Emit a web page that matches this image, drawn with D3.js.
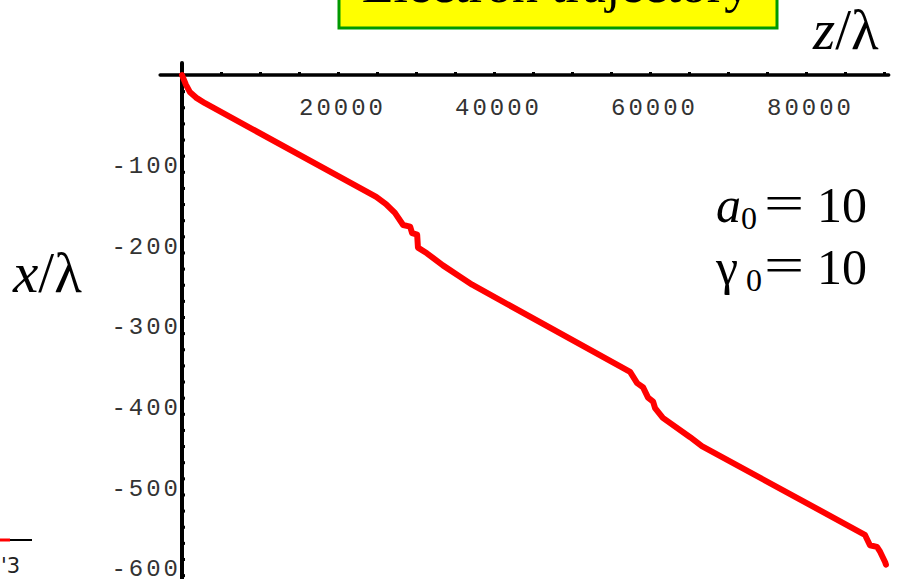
<!DOCTYPE html>
<html>
<head>
<meta charset="utf-8">
<script src="https://cdn.jsdelivr.net/npm/d3@7"></script>
<style>
  body { margin: 0; background: #fff; }
  svg { display: block; }
  .tickLabel text { font-family: "Liberation Mono", "DejaVu Sans Mono", monospace; font-size: 24px; fill: #333; letter-spacing: 3px; }
  .serif { font-family: "Liberation Serif", "Times New Roman", serif; fill: #000; }
</style>
</head>
<body>
<div id="chart"></div>
<script>
"use strict";

// trajectory points: z/lambda and x/lambda
let zValues = [0, 500, 1000, 1800, 2950, 24900, 26150, 27300, 28350, 29250, 29500, 30150, 30250, 31400,
  33450, 35650, 37200, 57450, 58350, 59100, 59750, 60400, 60650, 61650, 65150, 66650, 87550, 88200,
  89100, 89500, 90150, 90250];
let xValues = [0, -12, -21, -28, -35, -151, -160, -171, -186, -188, -196, -198, -214, -221,
  -236, -250, -260, -368, -382, -387, -400, -405, -413, -425, -449, -460, -570, -583,
  -585, -591, -604, -607];

let zTickLabels = [20000, 40000, 60000, 80000];
let xTickLabels = [-100, -200, -300, -400, -500, -600];

let width = 913, height = 579;

let svg = d3.select("#chart").append("svg")
  .attr("width", width)
  .attr("height", height);

let x = d3.scaleLinear().domain([0, 80000]).range([182, 806]);
let y = d3.scaleLinear().domain([0, -600]).range([75, 559]);

// title box, cut off at the top
svg.append("rect")
  .attr("x", 339).attr("y", -60)
  .attr("width", 438).attr("height", 88)
  .attr("fill", "#ffff00")
  .attr("stroke", "#009900")
  .attr("stroke-width", 3);

svg.append("text")
  .attr("class", "serif")
  .attr("x", 556).attr("y", 2)
  .attr("text-anchor", "middle")
  .style("font-size", "52px")
  .text("Electron trajectory");

// minor ticks
svg.append("g")
  .attr("transform", "translate(0," + y(0) + ")")
  .call(d3.axisTop(x).tickValues(d3.range(5000, 90001, 5000)).tickSize(3).tickFormat(""))
  .call(g => g.select(".domain").remove())
  .call(g => g.selectAll("line").attr("stroke", "#000").attr("stroke-width", 3));

svg.append("g")
  .attr("transform", "translate(" + x(0) + ",0)")
  .call(d3.axisRight(y).tickValues(d3.range(-20, -621, -20)).tickSize(3).tickFormat(""))
  .call(g => g.select(".domain").remove())
  .call(g => g.selectAll("line").attr("stroke", "#000").attr("stroke-width", 3));

// tick labels
svg.append("g")
  .attr("class", "tickLabel")
  .attr("transform", "translate(4," + (y(0) + 23) + ")")
  .call(d3.axisBottom(x).tickValues(zTickLabels).tickSize(0).tickPadding(0).tickFormat(d => d))
  .call(g => g.select(".domain").remove());

svg.append("g")
  .attr("class", "tickLabel")
  .attr("transform", "translate(" + (x(0) - 4) + ",9)")
  .call(d3.axisLeft(y).tickValues(xTickLabels).tickSize(0).tickPadding(0).tickFormat(d => "-" + Math.abs(d)))
  .call(g => g.select(".domain").remove())
  .call(g => g.selectAll("text").attr("dx", "3px"));

// axis lines
svg.append("line")
  .attr("x1", x(-2800)).attr("x2", x(90600))
  .attr("y1", y(0)).attr("y2", y(0))
  .attr("stroke", "#000").attr("stroke-width", 3.5)
  .attr("stroke-linecap", "round");

svg.append("line")
  .attr("x1", x(0)).attr("x2", x(0))
  .attr("y1", y(15)).attr("y2", height + 10)
  .attr("stroke", "#000").attr("stroke-width", 4)
  .attr("stroke-linecap", "round");

// trajectory
let line = d3.line()
  .x(d => x(d[0]))
  .y(d => y(d[1]));

svg.append("path")
  .datum(d3.zip(zValues, xValues))
  .attr("d", line)
  .attr("fill", "none")
  .attr("stroke", "#ff0000")
  .attr("stroke-width", 6)
  .attr("stroke-linejoin", "round")
  .attr("stroke-linecap", "round");

// axis titles
let zTitle = svg.append("text")
  .attr("class", "serif")
  .attr("x", 813).attr("y", 49)
  .style("font-size", "57px");
zTitle.append("tspan").style("font-style", "italic").text("z");
zTitle.append("tspan").text("/λ");

let xTitle = svg.append("text")
  .attr("class", "serif")
  .attr("x", 13).attr("y", 292)
  .style("font-size", "57px");
xTitle.append("tspan").style("font-style", "italic").text("x");
xTitle.append("tspan").text("/λ");

// parameters
function paramRow(symbol, italic, baseline) {
  let t = svg.append("text")
    .attr("class", "serif")
    .attr("x", 716).attr("y", baseline)
    .style("font-size", "50px");
  t.append("tspan").style("font-style", italic ? "italic" : "normal").text(symbol);
  t.append("tspan").attr("dy", 7).style("font-size", "32px").text(italic ? "0" : " 0");

  svg.append("text")
    .attr("class", "serif")
    .attr("text-anchor", "middle")
    .attr("transform", "translate(784," + (baseline - 2) + ") scale(1.55,1.1)")
    .style("font-size", "46px")
    .text("=");

  svg.append("text")
    .attr("class", "serif")
    .attr("x", 817).attr("y", baseline)
    .style("font-size", "50px")
    .text("10");
}
paramRow("a", true, 222);
paramRow("γ", false, 284);

// fragment of a neighbouring legend, clipped at the corner
svg.append("line")
  .attr("x1", 0).attr("x2", 10).attr("y1", 540).attr("y2", 540)
  .attr("stroke", "#ff0000").attr("stroke-width", 3);
svg.append("line")
  .attr("x1", 10).attr("x2", 32).attr("y1", 540).attr("y2", 540)
  .attr("stroke", "#000").attr("stroke-width", 2);
svg.append("text")
  .attr("x", 1).attr("y", 573)
  .style("font-family", "DejaVu Sans, sans-serif")
  .style("font-size", "21px")
  .attr("fill", "#222")
  .text("'3");
</script>
</body>
</html>
